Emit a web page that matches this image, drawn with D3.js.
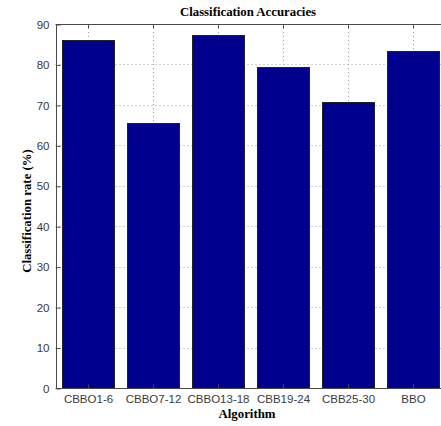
<!DOCTYPE html>
<html>
<head>
<meta charset="utf-8">
<script src="https://cdn.jsdelivr.net/npm/d3@7"></script>
<style>
  body { margin: 0; background: #fff; }
  svg { display: block; }
</style>
</head>
<body>
<div id="chart-container"></div>
<script>
  // Chart data
  var algorithms = ['CBBO1-6', 'CBBO7-12', 'CBBO13-18', 'CBB19-24', 'CBB25-30', 'BBO'];
  var accuracies = [86.1, 65.4, 87.4, 79.4, 70.8, 83.4];
  var yTicks = [0, 10, 20, 30, 40, 50, 60, 70, 80, 90];

  generateChart();

  function generateChart() {
      var width = 441;
      var height = 426;

      // Axes box (right edge runs past the window, as in the original)
      var plotLeft = 55.5, plotRight = 445.5, plotTop = 24, plotBottom = 388;

      var svg = d3.select('#chart-container')
          .append('svg')
          .attr('width', width)
          .attr('height', height);

      var xScale = d3.scaleBand()
          .domain(algorithms)
          .range([plotLeft, plotRight])
          .paddingInner(0.2)
          .paddingOuter(0.1);

      var yScale = d3.scaleLinear()
          .domain([0, 90])
          .range([plotBottom, plotTop]);

      var axisColor = '#4a4a4a';
      var center = function(d) { return Math.round(xScale(d) + xScale.bandwidth() / 2) + 0.5; };

      // Dotted grid lines
      var grid = svg.append('g')
          .attr('stroke', '#9a9a9a')
          .attr('stroke-width', 1)
          .attr('stroke-dasharray', '1,3');

      grid.selectAll('line.hgrid')
          .data(yTicks.slice(1, -1))
          .enter()
          .append('line')
          .attr('class', 'hgrid')
          .attr('x1', plotLeft)
          .attr('x2', plotRight)
          .attr('y1', function(d) { return Math.round(yScale(d)) + 0.5; })
          .attr('y2', function(d) { return Math.round(yScale(d)) + 0.5; });

      grid.selectAll('line.vgrid')
          .data(algorithms)
          .enter()
          .append('line')
          .attr('class', 'vgrid')
          .attr('x1', center)
          .attr('x2', center)
          .attr('y1', plotTop)
          .attr('y2', plotBottom);

      // Bars
      svg.selectAll('rect.bar')
          .data(accuracies)
          .enter()
          .append('rect')
          .attr('class', 'bar')
          .attr('x', function(d, i) { return Math.round(xScale(algorithms[i])) + 0.5; })
          .attr('y', function(d) { return Math.round(yScale(d)) + 0.5; })
          .attr('width', xScale.bandwidth())
          .attr('height', function(d) { return Math.round(yScale(0)) - Math.round(yScale(d)); })
          .attr('fill', '#00008f')
          .attr('stroke', '#222')
          .attr('stroke-width', 1);

      // Axis box lines
      svg.append('line')
          .attr('x1', plotLeft).attr('x2', plotRight)
          .attr('y1', plotTop + 0.5).attr('y2', plotTop + 0.5)
          .attr('stroke', axisColor);
      svg.append('line')
          .attr('x1', plotLeft).attr('x2', plotRight)
          .attr('y1', plotBottom + 0.5).attr('y2', plotBottom + 0.5)
          .attr('stroke', axisColor);
      svg.append('line')
          .attr('x1', 56.5).attr('x2', 56.5)
          .attr('y1', plotTop).attr('y2', plotBottom + 1)
          .attr('stroke', axisColor);

      // Y axis (ticks pointing inward)
      var yAxis = svg.append('g')
          .attr('transform', 'translate(56.5,0.5)')
          .call(d3.axisLeft(yScale).tickValues(yTicks).tickSizeInner(-4).tickSizeOuter(0).tickPadding(7));
      yAxis.select('.domain').remove();
      yAxis.selectAll('line').attr('stroke', axisColor);
      yAxis.selectAll('text')
          .attr('fill', '#3a3a3a')
          .style('font-family', '"Liberation Sans", Arial, sans-serif')
          .style('font-size', '11.5px');

      // X axis (bottom, ticks inward)
      var xAxis = svg.append('g')
          .attr('transform', 'translate(0.5,' + (plotBottom + 0.5) + ')')
          .call(d3.axisBottom(xScale).tickSizeInner(-4).tickSizeOuter(0).tickPadding(6));
      xAxis.select('.domain').remove();
      xAxis.selectAll('line').attr('stroke', axisColor);
      xAxis.selectAll('text')
          .attr('fill', '#3a3a3a')
          .style('font-family', '"Liberation Sans", Arial, sans-serif')
          .style('font-size', '11.5px');

      // Top ticks
      svg.selectAll('line.topTick')
          .data(algorithms)
          .enter()
          .append('line')
          .attr('class', 'topTick')
          .attr('x1', center)
          .attr('x2', center)
          .attr('y1', plotTop)
          .attr('y2', plotTop + 4)
          .attr('stroke', axisColor);

      // Title and labels
      var serif = '"Liberation Serif", "Times New Roman", serif';

      svg.append('text')
          .attr('x', 248)
          .attr('y', 16)
          .attr('text-anchor', 'middle')
          .style('font-family', serif)
          .style('font-weight', 'bold')
          .style('font-size', '12.8px')
          .text('Classification Accuracies');

      svg.append('text')
          .attr('x', 247)
          .attr('y', 418)
          .attr('text-anchor', 'middle')
          .style('font-family', serif)
          .style('font-weight', 'bold')
          .style('font-size', '12.8px')
          .text('Algorithm');

      svg.append('text')
          .attr('transform', 'translate(31,211) rotate(-90)')
          .attr('text-anchor', 'middle')
          .style('font-family', serif)
          .style('font-weight', 'bold')
          .style('font-size', '12.8px')
          .text('Classification rate (%)');
  }
</script>
</body>
</html>
